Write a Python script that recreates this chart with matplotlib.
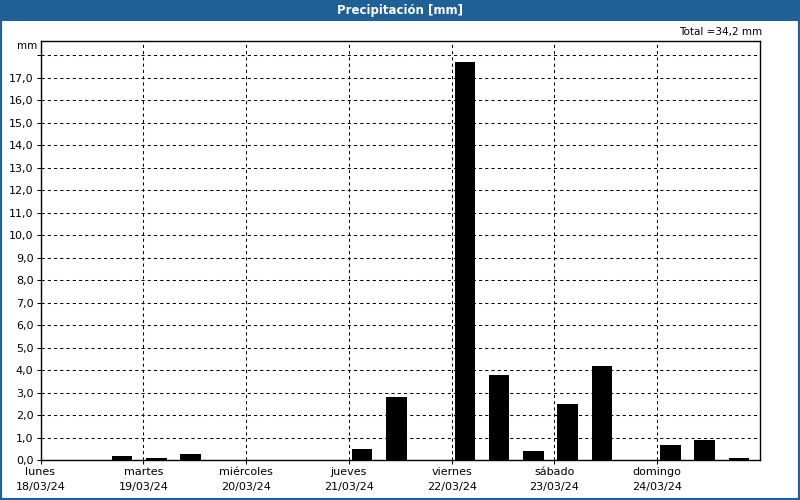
import numpy as np
import matplotlib.pyplot as plt
from matplotlib.patches import Rectangle

# data: one value every 8 hours, 18/03/24 .. 24/03/24
days = ["lunes", "martes", "miércoles", "jueves", "viernes", "sábado", "domingo"]
dates = ["18/03/24", "19/03/24", "20/03/24", "21/03/24", "22/03/24", "23/03/24", "24/03/24"]
rain = [0.0, 0.0, 0.2, 0.1, 0.3, 0.0, 0.0,
        0.0, 0.0, 0.5, 2.8, 0.0, 17.7, 3.8,
        0.4, 2.5, 4.2, 0.0, 0.7, 0.9, 0.1]
total = "34,2"

blue = "#1f6096"
plt.rcParams['font.family'] = ['DejaVu Sans']

fig = plt.figure(figsize=(8, 5), dpi=100)
fig.patch.set_facecolor("white")

# window frame + title bar
fig.patches.append(Rectangle((0, 0), 1, 1, transform=fig.transFigure,
                             fill=False, edgecolor=blue, linewidth=3, zorder=0))
fig.patches.append(Rectangle((0, 1 - 21 / 500), 1, 21 / 500, transform=fig.transFigure,
                             facecolor=blue, edgecolor="none", zorder=1))
fig.text(0.5, 1 - 10.5 / 500, "Precipitación [mm]", color="white", fontsize=8.5,
         fontweight="bold", ha="center", va="center")

ax = fig.add_axes([40.5 / 800, 1 - 460.3 / 500, (760 - 40.5) / 800, (460.3 - 40.7) / 500])

x = np.arange(len(rain)) / 3 + 0.128
ax.bar(x, rain, width=0.2, color="black", zorder=3)

ax.set_xlim(0, 7)
ax.set_ylim(0, 18.65)

ax.set_yticks(np.arange(0, 19))
ax.set_yticklabels([f"{v},0" for v in range(18)] + [""])
ax.set_xticks(np.arange(7))
ax.set_xticklabels([f"{d}\n{dt}" for d, dt in zip(days, dates)], linespacing=1.6)

ax.grid(True, color="black", linewidth=0.75, linestyle=(0, (3, 3)), zorder=1)
ax.tick_params(axis="both", labelsize=8, length=3, width=0.75, color="black", pad=2)
for s in ax.spines.values():
    s.set_linewidth(1)
    s.set_color("black")

fig.text(37 / 800, 1 - 46 / 500, "mm", fontsize=7.5, ha="right", va="center")
fig.text(762 / 800, 1 - 32 / 500, f"Total ={total} mm", fontsize=7.5, ha="right", va="center")

fig.savefig("out.png", dpi=100)
